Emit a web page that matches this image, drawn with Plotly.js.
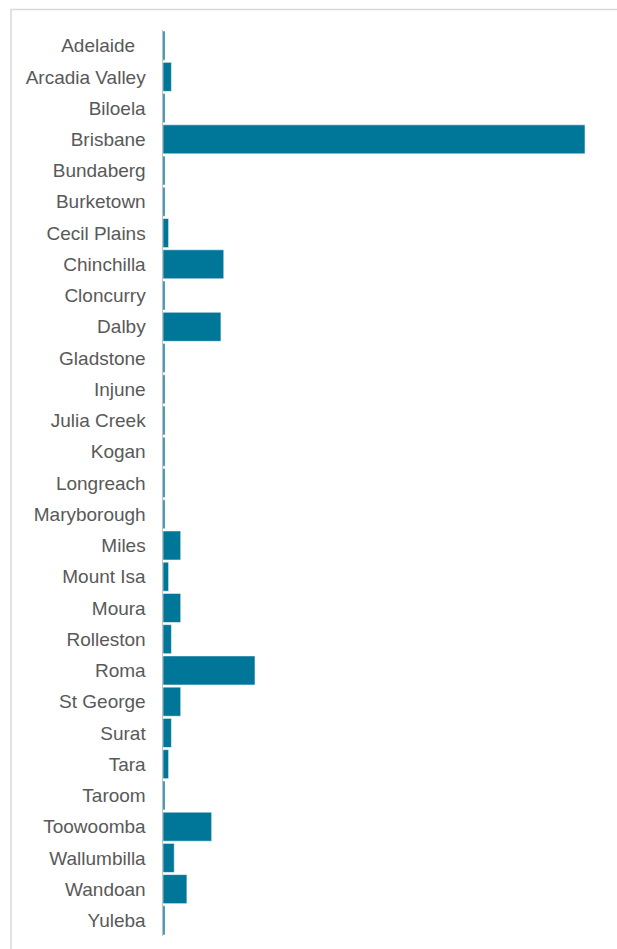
<!DOCTYPE html>
<html>
<head>
<meta charset="utf-8">
<script src="https://cdn.plot.ly/plotly-3.0.1.min.js"></script>
<style>html,body{margin:0;padding:0;background:#fff;}#chart{width:617px;height:949px;}</style>
</head>
<body>
<div id="chart"></div>
<script>
const categories = ["Adelaide","Arcadia Valley","Biloela","Brisbane","Bundaberg","Burketown","Cecil Plains","Chinchilla","Cloncurry","Dalby","Gladstone","Injune","Julia Creek","Kogan","Longreach","Maryborough","Miles","Mount Isa","Moura","Rolleston","Roma","St George","Surat","Tara","Taroom","Toowoomba","Wallumbilla","Wandoan","Yuleba"];
const values = [0.7,3,0.7,150,0.7,0.7,2,21.6,0.7,20.6,0.7,0.7,0.7,0.7,0.7,0.7,6.3,2,6.3,3,32.7,6.3,3,2,0.7,17.3,4,8.5,0.7];
// the source label for Adelaide carries trailing spaces
const tickLabels = categories.map(c => c === "Adelaide" ? "Adelaide\u00a0\u00a0" : c);

const trace = {
  type: 'bar',
  orientation: 'h',
  y: categories,
  x: values,
  marker: {color: '#007698', line: {color: 'rgba(255,255,255,0.55)', width: 1}},
  hoverinfo: 'y+x'
};

const layout = {
  width: 617, height: 949,
  margin: {l: 163, r: 32, t: 30, b: 13, pad: 0},
  paper_bgcolor: '#ffffff', plot_bgcolor: '#ffffff',
  bargap: 0.07,
  showlegend: false,
  xaxis: {range: [0, 150], visible: false, showgrid: false, zeroline: false, fixedrange: true},
  yaxis: {
    autorange: 'reversed', type: 'category',
    tickmode: 'array', tickvals: categories, ticktext: tickLabels,
    showline: true, linecolor: '#bfbfbf', linewidth: 1.5,
    showgrid: false, zeroline: false, ticks: '',
    ticklabelstandoff: 12,
    tickfont: {family: 'Liberation Sans, Arial, sans-serif', size: 19, color: '#595959'}
  },
  shapes: [{
    type: 'rect', xref: 'paper', yref: 'paper',
    x0: -0.3602, x1: 1.12, y0: -0.04, y1: 1.0225,
    line: {color: '#d9d9d9', width: 1.5}, fillcolor: 'rgba(0,0,0,0)', layer: 'below'
  }]
};

Plotly.newPlot('chart', [trace], layout, {displayModeBar: false, staticPlot: true});
</script>
</body>
</html>
